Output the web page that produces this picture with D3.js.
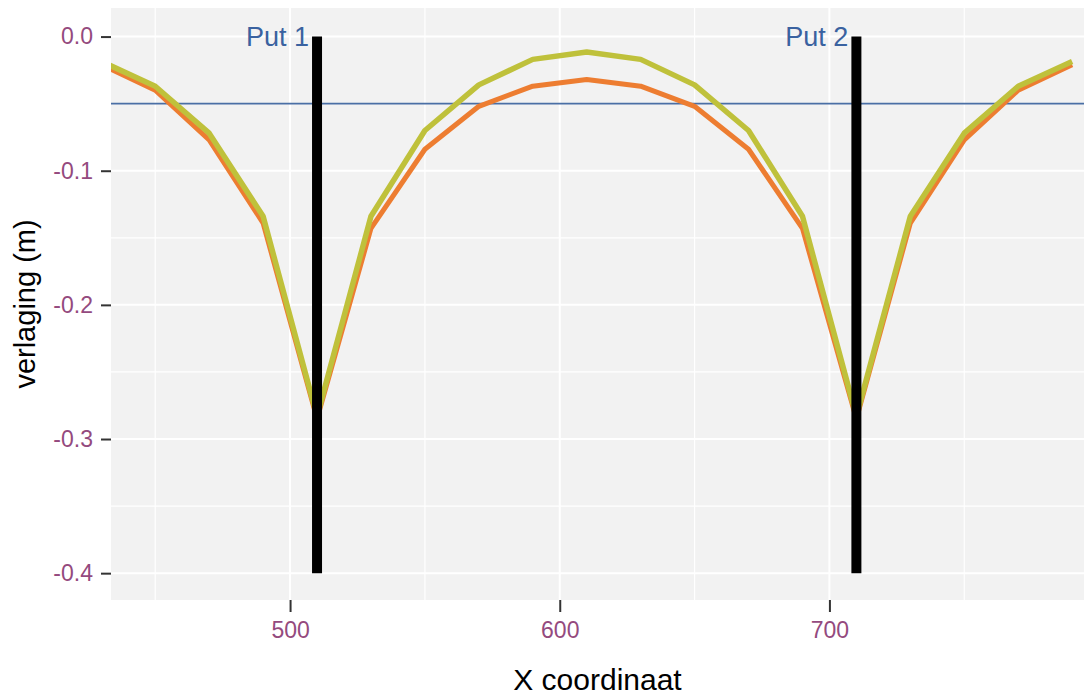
<!DOCTYPE html>
<html>
<head>
<meta charset="utf-8">
<script src="https://cdn.jsdelivr.net/npm/d3@7"></script>
<style>
  body { margin: 0; background: #fff; }
  text { font-family: "Liberation Sans", Arial, sans-serif; }
</style>
</head>
<body>
<svg id="chart" width="1084" height="695"></svg>
<script>
// x coordinates of the computed points
const xs = [430, 450, 470, 490, 510, 530, 550, 570, 590, 610, 630, 650, 670, 690, 710, 730, 750, 770, 790]
// drawdown, orange series (lower)
const orangeVals = [-0.021, -0.040, -0.077, -0.139, -0.285, -0.143, -0.084, -0.052, -0.037, -0.032,
                    -0.037, -0.052, -0.084, -0.143, -0.285, -0.139, -0.077, -0.040, -0.021]
// drawdown, yellow series (upper)
const yellowVals = [-0.0185, -0.037, -0.072, -0.134, -0.283, -0.134, -0.070, -0.036, -0.017, -0.0115,
                    -0.017, -0.036, -0.070, -0.134, -0.283, -0.134, -0.072, -0.037, -0.0185]
const wells = [510, 710]
const wellNames = ['Put 1', 'Put 2']
const wellDepth = [0, -0.4]
const limitLevel = -0.05
const xTicks = [500, 600, 700]
const xMinor = [450, 550, 650, 750]
const yTicks = [0, -0.1, -0.2, -0.3, -0.4]
const yMinor = [-0.05, -0.15, -0.25, -0.35]

let svg = d3.select('#chart'),
    margin = { top: 8, right: 0, bottom: 95, left: 111 },
    width = +svg.attr('width') - margin.left - margin.right,
    height = +svg.attr('height') - margin.top - margin.bottom

let x = d3.scaleLinear().domain([433.6, 794.4]).range([0, width])
let y = d3.scaleLinear().domain([-0.42, 0.0213]).range([height, 0])

let g = svg.append('g').attr('transform', `translate(${margin.left},${margin.top})`)

g.append('defs').append('clipPath').attr('id', 'clip')
    .append('rect').attr('width', width).attr('height', height)

g.append('rect').attr('width', width).attr('height', height).attr('fill', '#f2f2f2')

// grid
g.selectAll('.vminor').data(xMinor).join('line')
    .attr('x1', d => x(d)).attr('x2', d => x(d)).attr('y1', 0).attr('y2', height)
    .attr('stroke', '#fff').attr('stroke-width', 1.2)
g.selectAll('.hminor').data(yMinor).join('line')
    .attr('y1', d => y(d)).attr('y2', d => y(d)).attr('x1', 0).attr('x2', width)
    .attr('stroke', '#fff').attr('stroke-width', 1.2)
g.selectAll('.vmajor').data(xTicks).join('line')
    .attr('x1', d => x(d)).attr('x2', d => x(d)).attr('y1', 0).attr('y2', height)
    .attr('stroke', '#fff').attr('stroke-width', 2)
g.selectAll('.hmajor').data(yTicks).join('line')
    .attr('y1', d => y(d)).attr('y2', d => y(d)).attr('x1', 0).attr('x2', width)
    .attr('stroke', '#fff').attr('stroke-width', 2)

// axes (plain hyphen for the minus sign, like the original)
let fmtY = d => d3.format('.1f')(d).replace('\u2212', '-')
let xAxis = g.append('g').attr('transform', `translate(0,${height})`)
    .call(d3.axisBottom(x).tickValues(xTicks).tickSize(12).tickPadding(10).tickFormat(d3.format('d')))
let yAxis = g.append('g')
    .call(d3.axisLeft(y).tickValues(yTicks).tickSize(10).tickPadding(8).tickFormat(fmtY))
;[xAxis, yAxis].forEach(a => {
    a.select('.domain').remove()
    a.selectAll('.tick line').attr('stroke', '#333').attr('stroke-width', 2)
    a.selectAll('.tick text').attr('fill', '#944a7e').style('font-size', '23px')
        .style('font-family', '"Liberation Sans", Arial, sans-serif')
})

let plot = g.append('g').attr('clip-path', 'url(#clip)')

// limit line
plot.append('line')
    .attr('x1', 0).attr('x2', width).attr('y1', y(limitLevel)).attr('y2', y(limitLevel))
    .attr('stroke', '#4a6fa5').attr('stroke-width', 1.6)

let line = d3.line().x((d, i) => x(xs[i])).y(d => y(d))

plot.append('path').datum(orangeVals).attr('d', line)
    .attr('fill', 'none').attr('stroke', '#ed7d31').attr('stroke-width', 5)
    .attr('stroke-linejoin', 'round')
plot.append('path').datum(yellowVals).attr('d', line)
    .attr('fill', 'none').attr('stroke', '#bfc13b').attr('stroke-width', 5.5)
    .attr('stroke-linejoin', 'round')

// wells
plot.selectAll('.well').data(wells).join('line')
    .attr('x1', d => x(d)).attr('x2', d => x(d))
    .attr('y1', y(wellDepth[0])).attr('y2', y(wellDepth[1]))
    .attr('stroke', '#000').attr('stroke-width', 10)

g.selectAll('.wellname').data(wells).join('text')
    .attr('x', d => x(d) - 8).attr('y', y(wellDepth[0]))
    .attr('dy', '0.35em').attr('text-anchor', 'end')
    .attr('fill', '#3a62a0').style('font-size', '27px')
    .text((d, i) => wellNames[i])

// titles
svg.append('text')
    .attr('x', margin.left + width / 2).attr('y', 690)
    .attr('text-anchor', 'middle').attr('fill', '#000').style('font-size', '30px')
    .text('X coordinaat')
svg.append('text')
    .attr('transform', `translate(35,${margin.top + height / 2}) rotate(-90)`)
    .attr('text-anchor', 'middle').attr('fill', '#000').style('font-size', '29px')
    .text('verlaging (m)')
</script>
</body>
</html>
